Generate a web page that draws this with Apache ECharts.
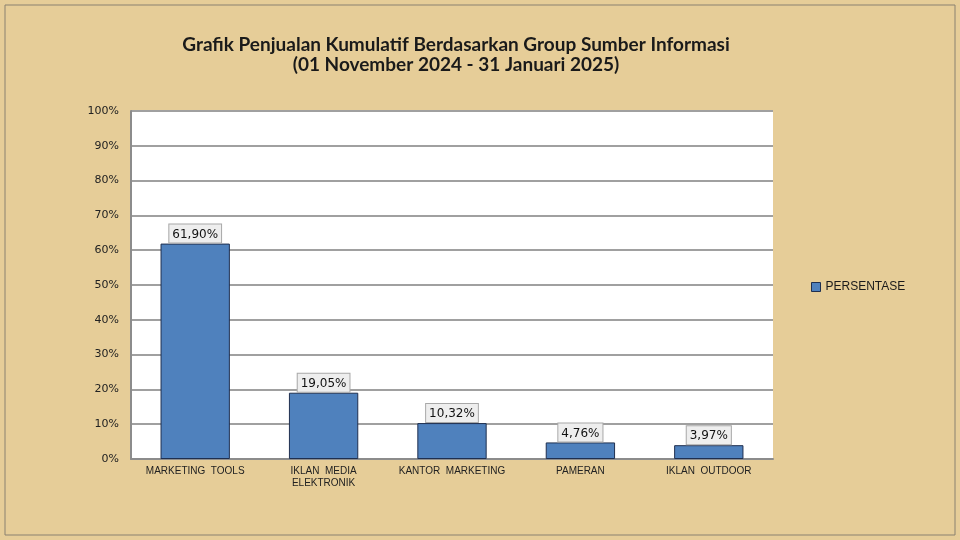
<!DOCTYPE html>
<html><head><meta charset="utf-8">
<script src="https://cdn.jsdelivr.net/npm/echarts@6/dist/echarts.min.js"></script>
<style>html,body{margin:0;padding:0;background:#e6cd98;}#c{width:960px;height:540px;}</style>
</head><body><div id="c"></div>
<script>
const categories = ['MARKETING  TOOLS', 'IKLAN  MEDIA\nELEKTRONIK', 'KANTOR  MARKETING', 'PAMERAN', 'IKLAN  OUTDOOR'];
const seriesName = 'PERSENTASE';
const values = [61.90, 19.05, 10.32, 4.76, 3.97];
const yTicks = [0, 10, 20, 30, 40, 50, 60, 70, 80, 90, 100];
const titleLines = ['Grafik Penjualan Kumulatif Berdasarkan Group Sumber Informasi', '(01 November 2024 - 31 Januari 2025)'];

const chart = echarts.init(document.getElementById('c'), null, {renderer: 'canvas'});
chart.setOption({
  animation: false,
  backgroundColor: '#e6cd98',
  graphic: [{
    type: 'rect', shape: {x: 5, y: 5, width: 950, height: 530},
    style: {fill: 'none', stroke: '#8a8170', lineWidth: 1}, silent: true, z: -1
  }],
  title: {
    text: titleLines.join('\n'),
    left: 451, top: 30, textAlign: 'center',
    textStyle: {fontFamily: 'Lato', fontWeight: 'bold', fontSize: 19, color: '#1a1a1a', lineHeight: 20}
  },
  legend: {
    data: [{name: seriesName, icon: 'rect'}], left: 806, top: 276, orient: 'vertical',
    itemWidth: 9, itemHeight: 9, itemGap: 6,
    textStyle: {fontFamily: 'Liberation Sans', fontSize: 12, color: '#1a1a1a'},
    itemStyle: {borderColor: '#1f2f4f', borderWidth: 1}
  },
  grid: {left: 131, right: 187, top: 111, bottom: 81, show: true, backgroundColor: '#ffffff', borderWidth: 0},
  xAxis: {
    type: 'category', data: categories,
    axisLine: {lineStyle: {color: '#8c8c8c', width: 2}},
    axisTick: {show: false},
    axisLabel: {fontFamily: 'Liberation Sans Narrow, Liberation Sans', fontSize: 10, color: '#222', margin: 6, lineHeight: 12, interval: 0}
  },
  yAxis: {
    type: 'value', min: yTicks[0], max: yTicks[yTicks.length - 1], interval: 10,
    axisLine: {show: true, lineStyle: {color: '#8c8c8c', width: 2}},
    axisTick: {show: false},
    splitLine: {lineStyle: {color: '#a0a0a0', width: 2}},
    axisLabel: {formatter: v => v + '%', fontFamily: 'DejaVu Sans', fontSize: 11, color: '#222', margin: 12}
  },
  series: [{
    name: seriesName, type: 'bar', data: values, barWidth: '54%',
    itemStyle: {color: '#4f81bd', borderColor: '#1f2f4f', borderWidth: 1},
    label: {
      show: true, position: 'top', distance: 1,
      formatter: p => p.value.toFixed(2).replace('.', ',') + '%',
      fontFamily: 'DejaVu Sans', fontSize: 12, color: '#111',
      backgroundColor: '#eeeeee', borderColor: '#a8a8a8', borderWidth: 1,
      padding: [4, 3, 2, 3]
    }
  }]
});
</script></body></html>
